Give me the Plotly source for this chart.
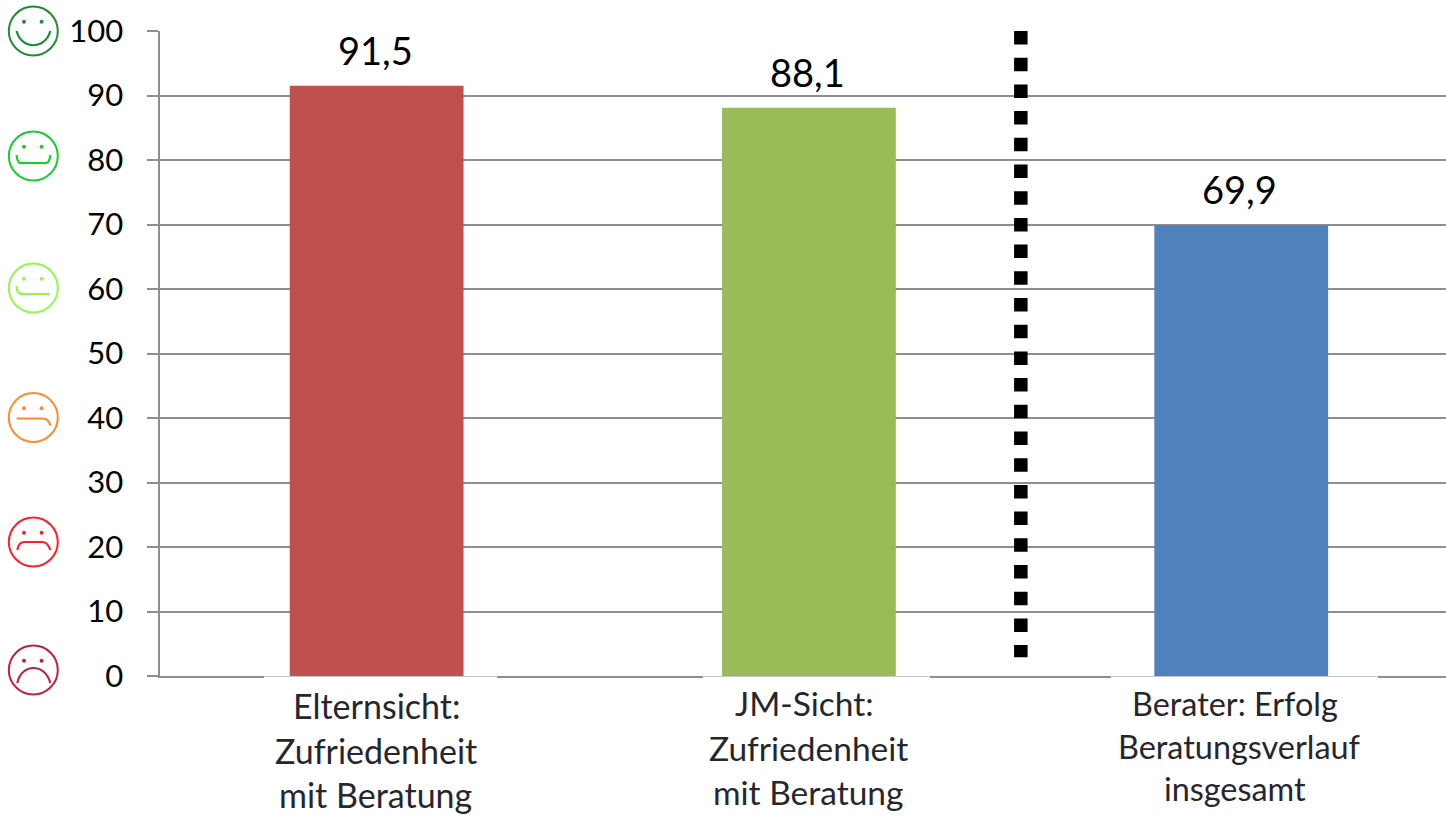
import plotly.graph_objects as go

# Chart data
categories = ["Elternsicht", "JM-Sicht", "Berater"]
values = [91.5, 88.1, 69.9]
bar_colors = ["#C0504D", "#9BBB59", "#4F81BD"]
tick_values = [0, 10, 20, 30, 40, 50, 60, 70, 80, 90, 100]
label_lines = [
    ["Elternsicht:", "Zufriedenheit", "mit Beratung"],
    ["JM-Sicht:", "Zufriedenheit", "mit Beratung"],
    ["Berater: Erfolg", "Beratungsverlauf", "insgesamt"],
]
label_centers = [[376, 376, 375], [804, 808, 808], [1235, 1239, 1235]]
label_rows = [[705, 750, 794], [703, 748, 792], [703, 746, 788]]
label_sizes = [34, 33.5, 32.4]
divider_x = [1.4902, 1.4902]
divider_y = [100, 2.9]

WIDTH, HEIGHT = 1446, 816
GRID = "#8E8E8E"
TEXT = "#000000"
LABEL = "#26262E"
FONT = "Lato"

fig = go.Figure()

# Bars on the main axes
fig.add_trace(go.Bar(
    x=[0, 1, 2], y=values, width=0.402,
    marker=dict(color=bar_colors, line_width=0),
    hoverinfo="skip", showlegend=False,
))

# Dashed separator between the parent/youth view and the adviser view
fig.add_trace(go.Scatter(
    x=divider_x, y=divider_y, mode="lines",
    line=dict(color="#000000", width=13.5, dash="13.5px,13.2px"),
    hoverinfo="skip", showlegend=False,
))

# Empty trace that keeps the pixel-scaled axes alive
fig.add_trace(go.Scatter(x=[None], y=[None], xaxis="x2", yaxis="y2",
                         hoverinfo="skip", showlegend=False))

# Value labels above the bars, with a decimal comma
annotations = [
    dict(x=i, y=v, xref="x", yref="y", text=f"{v:.1f}".replace(".", ","),
         showarrow=False, yanchor="bottom", yshift=11, xshift=-1.5,
         font=dict(family=FONT, size=38, color=TEXT))
    for i, v in enumerate(values)
]

# Three-line category captions, placed in the pixel-scaled axes
for lines, centers, rows, size in zip(label_lines, label_centers, label_rows, label_sizes):
    for text, cx, cy in zip(lines, centers, rows):
        annotations.append(dict(
            x=cx, y=cy, xref="x2", yref="y2", text=text, showarrow=False,
            xanchor="center", yanchor="middle",
            font=dict(family=FONT, size=size, color=LABEL),
        ))


def face(cy, color, mouth):
    """Circle, two eyes and a mouth path for one satisfaction face."""
    cx = 33.3
    out = [dict(type="circle", xref="x2", yref="y2",
                x0=cx - 24.5, x1=cx + 24.5, y0=cy - 24.5, y1=cy + 24.5,
                line=dict(color=color, width=2))]
    for dx in (-9.3, 8.3):
        out.append(dict(type="circle", xref="x2", yref="y2",
                        x0=cx + dx - 2, x1=cx + dx + 2,
                        y0=cy - 9.3 - 2, y1=cy - 9.3 + 2,
                        fillcolor=color, line_width=0))
    parts = []
    for cmd, pts in mouth:
        parts.append(cmd + " ".join(f"{cx + px:.1f},{cy + py:.1f}" for px, py in pts))
    out.append(dict(type="path", xref="x2", yref="y2", path=" ".join(parts),
                    line=dict(color=color, width=2.2)))
    return out


faces = [
    (31, "#1E8E35", [("M", [(-16.7, 0)]), ("C", [(-12, 19), (12, 19), (17, 0)])]),
    (156, "#17CF2C", [("M", [(-16.7, -1)]), ("C", [(-16, 9), (-12, 7), (-9, 7)]),
                      ("L", [(9, 7)]), ("C", [(12, 7), (16, 9), (17, -1)])]),
    (288, "#97F54F", [("M", [(-16.7, -2)]), ("C", [(-16.5, 6), (-13, 6), (-9, 6)]),
                      ("L", [(16.7, 6)])]),
    (417.5, "#FF8A2E", [("M", [(-16.7, 1)]), ("L", [(9, 1)]),
                        ("C", [(13, 1), (16, 3), (17, 8)])]),
    (542, "#FF1F26", [("M", [(-16, 8)]), ("C", [(-15, 2), (-12, 0), (-9, 0)]),
                      ("L", [(9, 0)]), ("C", [(12, 0), (15, 2), (17, 8)])]),
    (670, "#C2203F", [("M", [(-16, 13)]), ("C", [(-12, -7), (12, -7), (17, 13)])]),
]
shapes = []
for cy, color, mouth in faces:
    shapes.extend(face(cy, color, mouth))

# Keep the lower half of the baseline clear under each caption block
for x0, x1 in [(264, 497), (703, 930), (1111, 1378)]:
    shapes.append(dict(type="rect", xref="x2", yref="y2", x0=x0, x1=x1,
                       y0=676.6, y1=680, fillcolor="#FFFFFF", line_width=0))

fig.update_layout(
    width=WIDTH, height=HEIGHT, autosize=False,
    margin=dict(l=0, r=0, t=0, b=0, pad=0),
    paper_bgcolor="#FFFFFF", plot_bgcolor="rgba(0,0,0,0)",
    showlegend=False, bargap=0.6,
    font=dict(family=FONT, color=TEXT),
    annotations=annotations, shapes=shapes,
    xaxis=dict(
        domain=[159.5 / WIDTH, 1], range=[-0.5023, 2.4737], tickvals=[],
        showgrid=False, zeroline=False, showline=True, linecolor=GRID, linewidth=2,
        anchor="y", automargin=False,
    ),
    yaxis=dict(
        domain=[(HEIGHT - 676) / HEIGHT, (HEIGHT - 31) / HEIGHT], range=[0, 100],
        tickvals=tick_values, ticks="outside", ticklen=11, tickwidth=2, tickcolor=GRID,
        ticklabelstandoff=17, tickfont=dict(family=FONT, size=31, color=TEXT),
        showgrid=True, gridcolor=GRID, gridwidth=2, zeroline=False,
        showline=True, linecolor=GRID, linewidth=2, anchor="x", automargin=False,
    ),
    # Axes scaled in page pixels for the faces and captions
    xaxis2=dict(domain=[0, 1], range=[0, WIDTH], visible=False, anchor="y2", automargin=False),
    yaxis2=dict(domain=[0, 1], range=[HEIGHT, 0], visible=False, anchor="x2", automargin=False),
)

fig.write_html("out.html", config=dict(displayModeBar=False))
